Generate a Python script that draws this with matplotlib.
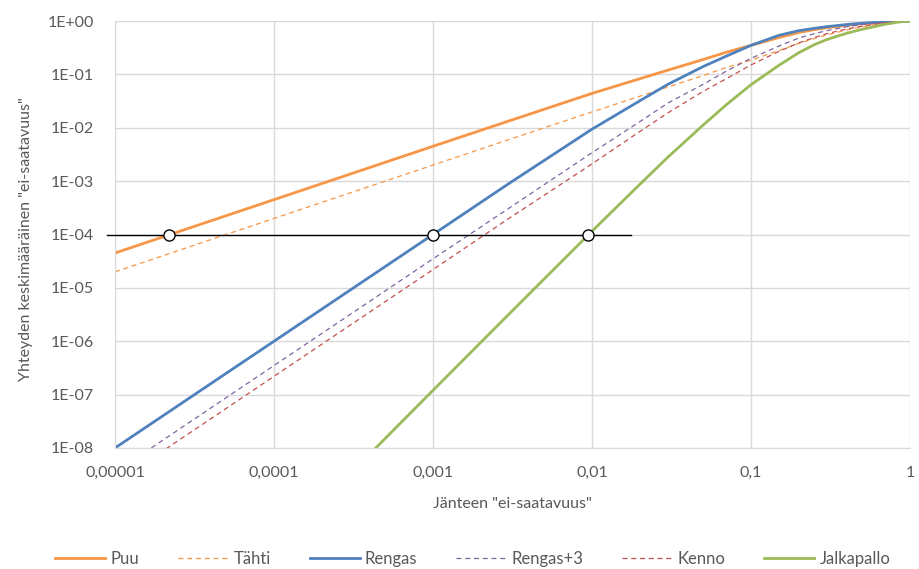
import matplotlib
matplotlib.use("Agg")
import matplotlib.pyplot as plt
from matplotlib.ticker import FixedLocator, NullLocator

plt.rcParams['font.family'] = ['Lato', 'DejaVu Sans']

# link unavailability (x) and mean connection unavailability per topology
p = [1e-5, 1e-4, 1e-3, 3e-3, 0.01, 0.02, 0.03, 0.05, 0.07, 0.1,
     0.15, 0.2, 0.25, 0.3, 0.4, 0.5, 0.7, 0.85, 1.0]
puu = [4.5e-5, 4.5e-4, 4.5e-3, 0.0134, 0.044, 0.083, 0.12, 0.19, 0.26, 0.35,
       0.49, 0.61, 0.69, 0.75, 0.83, 0.89, 0.96, 0.985, 1.0]
tahti = [2e-5, 2e-4, 2e-3, 6e-3, 0.0198, 0.039, 0.058, 0.095, 0.135, 0.185,
         0.28, 0.38, 0.47, 0.55, 0.68, 0.78, 0.92, 0.98, 1.0]
rengas = [1e-8, 1e-6, 1e-4, 9e-4, 0.0094, 0.032, 0.065, 0.14, 0.22, 0.35,
          0.54, 0.66, 0.73, 0.785, 0.86, 0.91, 0.97, 0.99, 1.0]
rengas3 = [3.5e-9, 3.5e-7, 3.5e-5, 3.1e-4, 0.0034, 0.013, 0.029, 0.065, 0.115, 0.2,
           0.34, 0.48, 0.58, 0.66, 0.78, 0.86, 0.95, 0.985, 1.0]
kenno = [2.2e-9, 2.2e-7, 2.2e-5, 2e-4, 0.0021, 0.0085, 0.019, 0.048, 0.083, 0.15,
         0.27, 0.39, 0.49, 0.58, 0.71, 0.80, 0.93, 0.98, 1.0]
jalkapallo = [1.2e-13, 1.2e-10, 1.2e-7, 3.2e-6, 1.15e-4, 8.7e-4, 0.0028, 0.0112, 0.027, 0.064,
              0.148, 0.255, 0.36, 0.45, 0.59, 0.70, 0.87, 0.96, 1.0]

# target level line and its crossing points
target_x = [8.9e-6, 0.0176]
target_y = [1e-4, 1e-4]
cross_x = [2.2e-5, 0.001, 0.0094]
cross_y = [1e-4, 1e-4, 1e-4]

xticks = [1e-5, 1e-4, 1e-3, 1e-2, 1e-1, 1]
xticklabels = ['0,00001', '0,0001', '0,001', '0,01', '0,1', '1']
yticks = [1e-8, 1e-7, 1e-6, 1e-5, 1e-4, 1e-3, 1e-2, 1e-1, 1]
yticklabels = ['1E-08', '1E-07', '1E-06', '1E-05', '1E-04', '1E-03', '1E-02', '1E-01', '1E+00']

fig = plt.figure(figsize=(9.2, 5.69), dpi=100)
ax = fig.add_axes([0.125, 0.2127, 0.864, 0.7503])

ax.plot(p, puu, color='#F79646', lw=2.0, label='Puu')
ax.plot(p, tahti, color='#F79646', lw=0.9, ls=(0, (4, 3)), label='Tähti')
ax.plot(p, rengas, color='#4F81BD', lw=2.0, label='Rengas')
ax.plot(p, rengas3, color='#8064A2', lw=0.9, ls=(0, (4, 3)), label='Rengas+3')
ax.plot(p, kenno, color='#C0504D', lw=0.9, ls=(0, (4, 3)), label='Kenno')
ax.plot(p, jalkapallo, color='#9BBB59', lw=2.0, label='Jalkapallo')

ax.plot(target_x, target_y, color='black', lw=1.0, clip_on=False, zorder=5)
ax.plot(cross_x, cross_y, ls='none', marker='o', ms=8, mfc='white', mec='black',
        mew=1.0, clip_on=False, zorder=6)

ax.set_xscale('log')
ax.set_yscale('log')
ax.set_xlim(1e-5, 1)
ax.set_ylim(1e-8, 1)

ax.xaxis.set_major_locator(FixedLocator(xticks))
ax.xaxis.set_minor_locator(NullLocator())
ax.set_xticklabels(xticklabels)
ax.yaxis.set_major_locator(FixedLocator(yticks))
ax.yaxis.set_minor_locator(NullLocator())
ax.set_yticklabels(yticklabels)

ax.tick_params(length=0, labelsize=11.5, colors='#595959')
ax.tick_params(axis='x', pad=13)
ax.tick_params(axis='y', pad=15)
ax.grid(True, color='#D9D9D9', lw=1.0)
ax.set_axisbelow(True)
for side in ['top', 'right']:
    ax.spines[side].set_visible(False)
for side in ['left', 'bottom']:
    ax.spines[side].set_color('#D9D9D9')

ax.set_xlabel('Jänteen "ei-saatavuus"', fontsize=11.5, color='#595959')
ax.set_ylabel('Yhteyden keskimääräinen "ei-saatavuus"', fontsize=11.5, color='#595959')
ax.xaxis.set_label_coords(0.5, -0.115)
ax.yaxis.set_label_coords(-0.103, 0.49)

leg = fig.legend(loc='lower center', bbox_to_anchor=(0.514, -0.022), ncol=6, frameon=False,
                 fontsize=12, handlelength=3.0, handletextpad=0.3, columnspacing=2.35)
for t in leg.get_texts():
    t.set_color('#595959')

fig.savefig('out.png', dpi=100)
